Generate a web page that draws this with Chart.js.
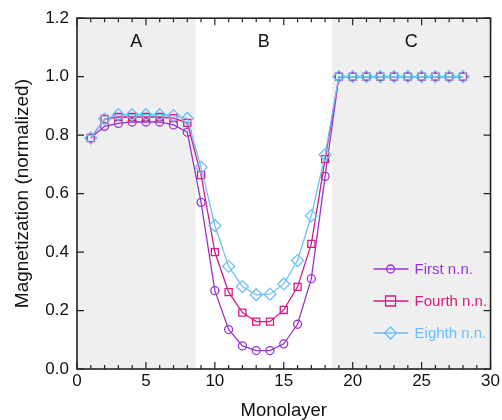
<!DOCTYPE html>
<html>
<head>
<meta charset="utf-8">
<script src="https://cdn.jsdelivr.net/npm/chart.js@4/dist/chart.umd.min.js"></script>
<style>
html,body{margin:0;padding:0;background:#fff;}
#c{display:block;}
</style>
</head>
<body>
<canvas id="c" width="502" height="420"></canvas>
<script>
const monolayers = [1,2,3,4,5,6,7,8,9,10,11,12,13,14,15,16,17,18,19,20,21,22,23,24,25,26,27,28];
const firstNN  = [0.79,0.83,0.84,0.845,0.845,0.845,0.835,0.81,0.57,0.268,0.135,0.079,0.063,0.063,0.086,0.153,0.309,0.659,1,1,1,1,1,1,1,1,1,1];
const fourthNN = [0.79,0.855,0.862,0.862,0.862,0.862,0.858,0.842,0.663,0.40,0.263,0.193,0.162,0.162,0.202,0.281,0.428,0.718,1,1,1,1,1,1,1,1,1,1];
const eighthNN = [0.79,0.855,0.87,0.87,0.87,0.87,0.867,0.857,0.69,0.491,0.351,0.282,0.254,0.256,0.291,0.371,0.524,0.733,1,1,1,1,1,1,1,1,1,1];
const seriesNames = ['First n.n.','Fourth n.n.','Eighth n.n.'];
const regionNames = ['A','B','C'];
const regionBounds = [0, 8.6, 18.5, 30];
const shadedRegions = [true, false, true];
const xTicks = [0,5,10,15,20,25,30];
const yTicks = [0,0.2,0.4,0.6,0.8,1.0,1.2];

const COLORS = ['#9933d6', '#d81b82', '#6cc0f5'];
const STYLES = ['circle', 'rect', 'rectRot'];
const FONT = "'Liberation Sans', Arial, Helvetica, sans-serif";

function pts(vals){ return monolayers.map((m,i)=>({x:m,y:vals[i]})); }

function drawMarker(ctx, style, x, y, color){
  ctx.save();
  ctx.strokeStyle = color; ctx.lineWidth = 1.3;
  ctx.beginPath();
  if (style === 'circle') { ctx.arc(x, y, 4, 0, Math.PI*2); }
  else if (style === 'rect') { ctx.rect(x-5, y-5, 10, 10); }
  else { ctx.moveTo(x, y-6); ctx.lineTo(x+6, y); ctx.lineTo(x, y+6); ctx.lineTo(x-6, y); ctx.closePath(); }
  ctx.stroke();
  ctx.restore();
}

const bgPlugin = {
  id: 'bg',
  beforeDatasetsDraw(chart){
    const {ctx, chartArea:a, scales:{x}} = chart;
    ctx.save();
    ctx.fillStyle = '#efefef';
    for (let i=0;i<shadedRegions.length;i++){
      if (!shadedRegions[i]) continue;
      const x0 = x.getPixelForValue(regionBounds[i]);
      const x1 = x.getPixelForValue(regionBounds[i+1]);
      ctx.fillRect(x0, a.top, x1-x0, a.bottom-a.top);
    }
    ctx.fillStyle = '#111';
    ctx.font = '18px ' + FONT;
    ctx.textAlign = 'center'; ctx.textBaseline = 'middle';
    for (let i=0;i<regionNames.length;i++){
      const xc = x.getPixelForValue((regionBounds[i]+regionBounds[i+1])/2);
      ctx.fillText(regionNames[i], xc, a.top + 24);
    }
    ctx.restore();
  }
};

const framePlugin = {
  id: 'frame',
  afterDatasetsDraw(chart){
    const {ctx, chartArea:a, scales:{x,y}} = chart;
    ctx.save();
    ctx.strokeStyle = '#222'; ctx.lineWidth = 1.6;
    ctx.strokeRect(a.left, a.top, a.right-a.left, a.bottom-a.top);
    ctx.lineWidth = 1.2;
    ctx.beginPath();
    for (let v=0; v<=30; v++){
      const px = x.getPixelForValue(v);
      const len = (v%5===0) ? 7 : 4;
      ctx.moveTo(px, a.bottom); ctx.lineTo(px, a.bottom-len);
      ctx.moveTo(px, a.top); ctx.lineTo(px, a.top+len);
    }
    yTicks.forEach(v=>{
      const py = y.getPixelForValue(v);
      ctx.moveTo(a.left, py); ctx.lineTo(a.left+7, py);
      ctx.moveTo(a.right, py); ctx.lineTo(a.right-7, py);
    });
    ctx.stroke();
    // legend
    ctx.font = '15px ' + FONT;
    ctx.textAlign = 'left'; ctx.textBaseline = 'middle';
    const rowY = [a.bottom-100, a.bottom-68, a.bottom-36];
    const lx0 = a.right - 117, lx1 = a.right - 82, lm = a.right - 100, lt = a.right - 76;
    for (let i=0;i<3;i++){
      ctx.strokeStyle = COLORS[i]; ctx.lineWidth = 1.3;
      ctx.beginPath(); ctx.moveTo(lx0,rowY[i]); ctx.lineTo(lx1,rowY[i]); ctx.stroke();
      drawMarker(ctx, STYLES[i], lm, rowY[i], COLORS[i]);
      ctx.fillStyle = COLORS[i];
      ctx.fillText(seriesNames[i], lt, rowY[i]+1);
    }
    ctx.restore();
  }
};

function ds(i, vals, order){
  return {
    label: seriesNames[i], data: pts(vals), order: order,
    borderColor: COLORS[i], backgroundColor: 'rgba(0,0,0,0)', borderWidth: 1.3,
    pointStyle: STYLES[i], pointRadius: STYLES[i]==='rect' ? 5 : (STYLES[i]==='circle' ? 4 : 6),
    pointBorderColor: COLORS[i], pointBackgroundColor: 'rgba(0,0,0,0)', pointBorderWidth: 1.3,
    tension: 0, fill: false
  };
}

new Chart(document.getElementById('c'), {
  type: 'line',
  data: { datasets: [ ds(0, firstNN, 2), ds(1, fourthNN, 1), ds(2, eighthNN, 0) ] },
  options: {
    responsive: false, animation: false,
    layout: { padding: { top: 18, right: 11, left: 0, bottom: 0 } },
    plugins: { legend: { display: false }, tooltip: { enabled: false } },
    scales: {
      x: {
        type: 'linear', min: 0, max: 30,
        afterBuildTicks(s){ s.ticks = xTicks.map(v=>({value:v})); },
        afterFit(s){ s.height = 51; },
        grid: { display: false, drawTicks: false },
        border: { display: false },
        ticks: { color: '#111', font: { family: FONT, size: 17 }, padding: 2, maxRotation: 0 },
        title: { display: true, text: 'Monolayer', color: '#111', font: { family: FONT, size: 18.5, lineHeight: 1 }, padding: 0 }
      },
      y: {
        type: 'linear', min: 0, max: 1.2,
        afterBuildTicks(s){ s.ticks = yTicks.map(v=>({value:v})); },
        afterFit(s){ s.width = 77; },
        grid: { display: false, drawTicks: false },
        border: { display: false },
        ticks: { color: '#111', font: { family: FONT, size: 17 }, padding: 8, callback: v => Number(v).toFixed(1) },
        title: { display: true, text: 'Magnetization (normalized)', color: '#111', font: { family: FONT, size: 19, lineHeight: 1 }, padding: { top: 13, bottom: 0 } }
      }
    }
  },
  plugins: [bgPlugin, framePlugin]
});
</script>
</body>
</html>
